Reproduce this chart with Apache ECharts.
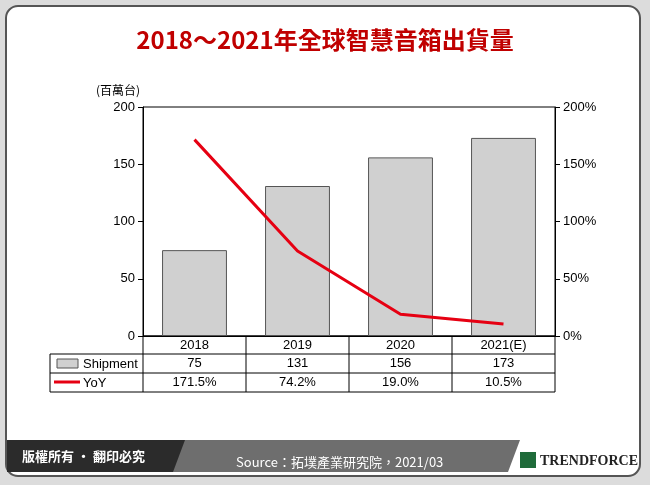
<!DOCTYPE html>
<html>
<head>
<meta charset="utf-8">
<style>
  body { margin: 0; background: #dcdcdc; }
  #container { width: 650px; height: 485px; }
</style>
</head>
<body>
<div id="container"></div>
<script src="https://cdn.jsdelivr.net/npm/echarts@6/dist/echarts.min.js"></script>
<script>
var years = ['2018', '2019', '2020', '2021(E)'];
var shipment = [75, 131, 156, 173];
var yoy = [171.5, 74.2, 19.0, 10.5];
var leftTicks = [0, 50, 100, 150, 200];

var chart = echarts.init(document.getElementById('container'));
var font = 'Arial, "Liberation Sans", "Noto Sans CJK TC", sans-serif';

// table geometry
var tL = 50, tX = 143, tR = 555, rows = [336, 354, 373, 392];
var colW = (tR - tX) / years.length;
var g = [];
// panel and frame
g.push({ type: 'rect', shape: { x: 6, y: 6, width: 634, height: 470, r: 12 },
  style: { fill: '#fff', stroke: '#555', lineWidth: 2 }, z: -10 });
g.push({ type: 'text', left: 'center', top: 28, style: { text: '2018～2021年全球智慧音箱出貨量',
  fill: '#c00000', font: 'bold 24px "Noto Sans CJK TC", serif' } });
g.push({ type: 'text', x: 96, y: 84, style: { text: '(百萬台)', fill: '#000', font: '12px "Noto Sans CJK TC", sans-serif' } });
// table lines
rows.forEach(function (y, i) {
  g.push({ type: 'line', shape: { x1: i === 0 ? tX : tL, y1: y, x2: tR, y2: y }, style: { stroke: '#000', lineWidth: 1 } });
});
g.push({ type: 'line', shape: { x1: tL, y1: rows[1], x2: tL, y2: rows[3] }, style: { stroke: '#000' } });
for (var c = 0; c <= years.length; c++) {
  g.push({ type: 'line', shape: { x1: tX + c * colW, y1: rows[0], x2: tX + c * colW, y2: rows[3] }, style: { stroke: '#000' } });
}
years.forEach(function (yr, i) {
  var cx = tX + (i + 0.5) * colW;
  [yr, String(shipment[i]), yoy[i].toFixed(1) + '%'].forEach(function (t, r) {
    g.push({ type: 'text', x: cx, y: (rows[r] + rows[r + 1]) / 2,
      style: { text: t, fill: '#000', font: '13px ' + font, textAlign: 'center', textVerticalAlign: 'middle' } });
  });
});
// legend keys
g.push({ type: 'rect', shape: { x: 57, y: 359, width: 21, height: 9 }, style: { fill: '#d0d0d0', stroke: '#555' } });
g.push({ type: 'text', x: 83, y: 364, style: { text: 'Shipment', fill: '#000', font: '13px ' + font, textVerticalAlign: 'middle' } });
g.push({ type: 'line', shape: { x1: 54, y1: 382, x2: 80, y2: 382 }, style: { stroke: '#e60012', lineWidth: 3 } });
g.push({ type: 'text', x: 83, y: 383, style: { text: 'YoY', fill: '#000', font: '13px ' + font, textVerticalAlign: 'middle' } });
// footer
g.push({ type: 'polygon', shape: { points: [[7, 440], [520, 440], [508, 472], [7, 472]] }, style: { fill: '#6e6e6e' } });
g.push({ type: 'polygon', shape: { points: [[7, 440], [185, 440], [173, 472], [7, 472]] }, style: { fill: '#2b2b2b' } });
g.push({ type: 'text', x: 22, y: 456, style: { text: '版權所有 · 翻印必究', fill: '#fff', font: 'bold 13px "Noto Sans CJK TC", sans-serif', textVerticalAlign: 'middle' } });
g.push({ type: 'text', x: 236, y: 462, style: { text: 'Source：拓墣產業研究院，2021/03', fill: '#fff', font: '13px "Noto Sans CJK TC", sans-serif', textVerticalAlign: 'middle' } });
g.push({ type: 'rect', shape: { x: 520, y: 452, width: 16, height: 16 }, style: { fill: '#1f6b3a' } });
g.push({ type: 'text', x: 540, y: 461, style: { text: 'TRENDFORCE', fill: '#222', font: 'bold 14px "Liberation Serif", serif', textVerticalAlign: 'middle' } });

chart.setOption({
  animation: false,
  backgroundColor: 'transparent',
  graphic: g,
  grid: { left: 143, right: 95, top: 107, bottom: 149, show: true, borderColor: '#000', borderWidth: 1 },
  xAxis: { type: 'category', data: years, axisLabel: { show: false }, axisTick: { show: false },
    axisLine: { lineStyle: { color: '#000' } } },
  yAxis: [
    { type: 'value', min: 0, max: 200, interval: 50, splitLine: { show: false },
      axisLine: { show: true, lineStyle: { color: '#000' } }, axisTick: { show: true, inside: false },
      axisLabel: { color: '#000', fontSize: 13, fontFamily: font } },
    { type: 'value', min: 0, max: 200, interval: 50, splitLine: { show: false },
      axisLine: { show: true, lineStyle: { color: '#000' } }, axisTick: { show: true },
      axisLabel: { color: '#000', fontSize: 13, fontFamily: font, formatter: '{value}%' } }
  ],
  series: [
    { type: 'bar', data: shipment, barWidth: '63%',
      itemStyle: { color: '#d0d0d0', borderColor: '#555', borderWidth: 1 } },
    { type: 'line', yAxisIndex: 1, data: yoy, symbol: 'none',
      lineStyle: { color: '#e60012', width: 3 } }
  ]
});
</script>
</body>
</html>
